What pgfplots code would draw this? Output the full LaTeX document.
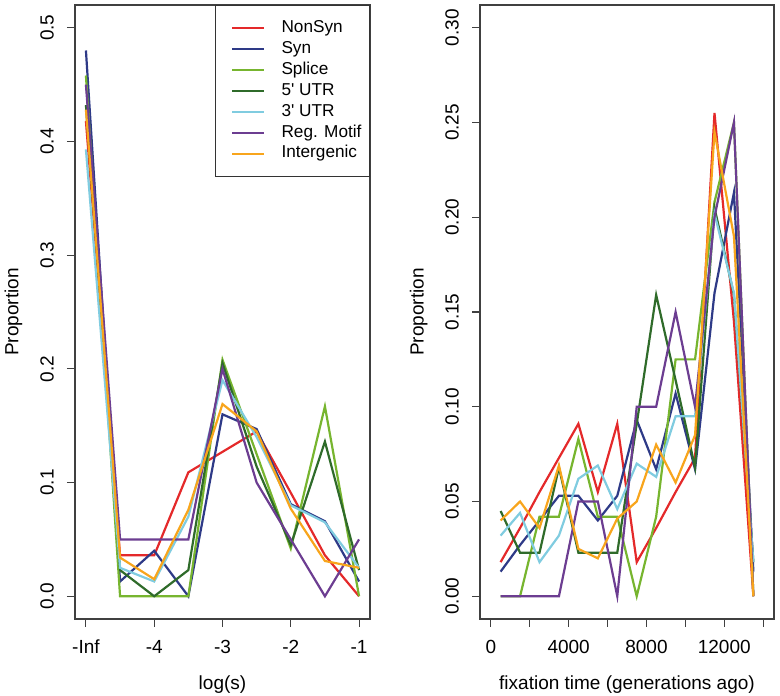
\documentclass[border=0pt]{standalone}
\usepackage{fontspec}
\setmainfont{Liberation Sans}
\usepackage{pgfplots}
\pgfplotsset{compat=1.18}
\definecolor{cNon}{HTML}{E4292A}
\definecolor{cSyn}{HTML}{2E3A87}
\definecolor{cSpl}{HTML}{77B52F}
\definecolor{cFive}{HTML}{2F6B2A}
\definecolor{cThree}{HTML}{80CCE0}
\definecolor{cReg}{HTML}{6C3D91}
\definecolor{cInt}{HTML}{F8A51C}
\pgfplotsset{
  rstyle/.style={
    scale only axis,
    height=614pt,
    axis line style={black!75, line width=1.1pt},
    tick align=outside, tick pos=left,
    major tick length=8pt,
    every tick/.style={black!75, line width=1.1pt},
    tick label style={font=\fontsize{19}{22}\selectfont},
    label style={font=\fontsize{19}{22}\selectfont},
    xticklabel style={anchor=north, inner sep=0pt},
    yticklabel style={rotate=90, anchor=south, inner sep=0pt},
    xticklabel shift=13pt, yticklabel shift=13pt,
    scaled ticks=false,
    every axis plot/.append style={line width=2.2pt, mark=none},
    ylabel={Proportion},
    ylabel style={at={(rel axis cs:-0.192,0.5)}, anchor=base},
    xlabel style={at={(rel axis cs:0.5,-0.1156)}, anchor=base},
  }
}
\begin{document}
\begin{tikzpicture}
\path[use as bounding box] (0pt,0pt) rectangle (780pt,696pt);
\begin{axis}[rstyle, at={(75pt,77pt)}, anchor=south west, width=295pt,
  xmin=-5.16, xmax=-0.84, ymin=-0.02, ymax=0.52,
  xtick={-5,-4,-3,-2,-1}, xticklabels={-Inf,-4,-3,-2,-1},
  ytick={0,0.1,0.2,0.3,0.4,0.5}, yticklabels={0.0,0.1,0.2,0.3,0.4,0.5},
  xlabel={log(s)},
  legend cell align=left,
  legend image code/.code={\path (0pt,0pt); \draw[#1, line width=2.2pt] (8pt,0pt) -- (40pt,0pt);},
  legend style={at={(rel axis cs:1,1)}, anchor=north east, draw=black!80, line width=1pt,
    fill=white, inner xsep=8pt, inner ysep=14pt, row sep=3.4pt, column sep=16pt,
    font=\fontsize{17.2}{20}\selectfont,
    nodes={inner sep=0pt, text height=13pt, text depth=4.5pt}},
]
\addplot[cNon] coordinates {(-5,0.418) (-4.5,0.036) (-4,0.036) (-3.5,0.109) (-3,0.127) (-2.5,0.145) (-2,0.091) (-1.5,0.036) (-1,0)};
\addplot[cSyn] coordinates {(-5,0.48) (-4.5,0.013) (-4,0.04) (-3.5,0) (-3,0.16) (-2.5,0.147) (-2,0.081) (-1.5,0.066) (-1,0.013)};
\addplot[cSpl] coordinates {(-5,0.458) (-4.5,0) (-4,0) (-3.5,0) (-3,0.208) (-2.5,0.125) (-2,0.042) (-1.5,0.167) (-1,0)};
\addplot[cFive] coordinates {(-5,0.432) (-4.5,0.023) (-4,0) (-3.5,0.023) (-3,0.205) (-2.5,0.114) (-2,0.045) (-1.5,0.136) (-1,0.023)};
\addplot[cThree] coordinates {(-5,0.393) (-4.5,0.025) (-4,0.013) (-3.5,0.07) (-3,0.19) (-2.5,0.14) (-2,0.08) (-1.5,0.065) (-1,0.025)};
\addplot[cReg] coordinates {(-5,0.45) (-4.5,0.05) (-4,0.05) (-3.5,0.05) (-3,0.2) (-2.5,0.1) (-2,0.05) (-1.5,0) (-1,0.05)};
\addplot[cInt] coordinates {(-5,0.428) (-4.5,0.034) (-4,0.015) (-3.5,0.076) (-3,0.169) (-2.5,0.145) (-2,0.077) (-1.5,0.031) (-1,0.025)};
\legend{NonSyn,Syn,Splice,5\textquotesingle{} UTR,3\textquotesingle{} UTR,Reg. Motif,Intergenic}
\end{axis}
\begin{axis}[rstyle, at={(480pt,77pt)}, anchor=south west, width=294pt,
  xmin=-560, xmax=14560, ymin=-0.012, ymax=0.312,
  xtick={0,2000,4000,6000,8000,10000,12000,14000}, xticklabels={0,,4000,,8000,,12000,},
  ytick={0,0.05,0.1,0.15,0.2,0.25,0.3}, yticklabels={0.00,0.05,0.10,0.15,0.20,0.25,0.30},
  xlabel={fixation time (generations ago)},
]
\addplot[cNon] coordinates {(500,0.018) (1500,0.036) (2500,0.055) (3500,0.073) (4500,0.091) (5500,0.055) (6500,0.091) (7500,0.018) (8500,0.036) (9500,0.055) (10500,0.073) (11500,0.255) (12500,0.145) (13500,0)};
\addplot[cSyn] coordinates {(500,0.013) (1500,0.027) (2500,0.04) (3500,0.053) (4500,0.053) (5500,0.04) (6500,0.053) (7500,0.093) (8500,0.067) (9500,0.107) (10500,0.067) (11500,0.16) (12500,0.213) (13500,0.013)};
\addplot[cSpl] coordinates {(500,0) (1500,0) (2500,0.042) (3500,0.042) (4500,0.083) (5500,0.042) (6500,0.042) (7500,0) (8500,0.042) (9500,0.125) (10500,0.125) (11500,0.208) (12500,0.25) (13500,0)};
\addplot[cFive] coordinates {(500,0.045) (1500,0.023) (2500,0.023) (3500,0.068) (4500,0.023) (5500,0.023) (6500,0.023) (7500,0.091) (8500,0.159) (9500,0.114) (10500,0.068) (11500,0.205) (12500,0.159) (13500,0.018)};
\addplot[cThree] coordinates {(500,0.032) (1500,0.044) (2500,0.018) (3500,0.032) (4500,0.062) (5500,0.069) (6500,0.046) (7500,0.07) (8500,0.063) (9500,0.095) (10500,0.095) (11500,0.202) (12500,0.16) (13500,0.018)};
\addplot[cReg] coordinates {(500,0) (1500,0) (2500,0) (3500,0) (4500,0.05) (5500,0.05) (6500,0) (7500,0.1) (8500,0.1) (9500,0.15) (10500,0.1) (11500,0.2) (12500,0.25) (13500,0)};
\addplot[cInt] coordinates {(500,0.04) (1500,0.05) (2500,0.036) (3500,0.069) (4500,0.025) (5500,0.02) (6500,0.041) (7500,0.05) (8500,0.08) (9500,0.06) (10500,0.085) (11500,0.245) (12500,0.19) (13500,0)};
\end{axis}
\end{tikzpicture}
\end{document}
